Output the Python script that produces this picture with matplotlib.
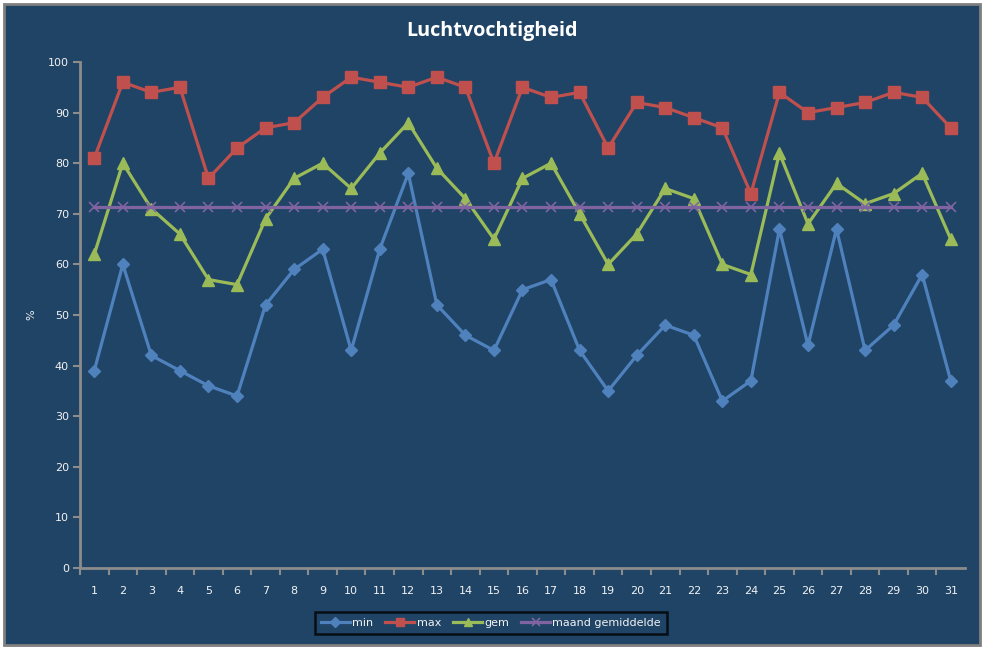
import matplotlib
matplotlib.use("Agg")
import matplotlib.pyplot as plt
from matplotlib.patches import Rectangle

days = list(range(1, 32))
min_vals = [39, 60, 42, 39, 36, 34, 52, 59, 63, 43, 63, 78, 52, 46, 43, 55,
            57, 43, 35, 42, 48, 46, 33, 37, 67, 44, 67, 43, 48, 58, 37]
max_vals = [81, 96, 94, 95, 77, 83, 87, 88, 93, 97, 96, 95, 97, 95, 80, 95,
            93, 94, 83, 92, 91, 89, 87, 74, 94, 90, 91, 92, 94, 93, 87]
gem_vals = [62, 80, 71, 66, 57, 56, 69, 77, 80, 75, 82, 88, 79, 73, 65, 77,
            80, 70, 60, 66, 75, 73, 60, 58, 82, 68, 76, 72, 74, 78, 65]
maand_gem = [71.4] * 31
yticks = [0, 10, 20, 30, 40, 50, 60, 70, 80, 90, 100]

BG = "#1F4466"
AXC = "#8C8C8C"
TXT = "#F2F2F2"

W, H = 987, 648
fig = plt.figure(figsize=(W / 100, H / 100), dpi=100)
fig.patch.set_facecolor("white")
fig.patches.append(Rectangle((4 / W, 1 - 645 / H), 976 / W, 641 / H,
                             transform=fig.transFigure, facecolor=BG,
                             edgecolor="#7F7F7F", linewidth=2, zorder=-10))

x0, x1 = 80 / W, 965 / W
y0, y1 = 1 - 568 / H, 1 - 62 / H
ax = fig.add_axes([x0, y0, x1 - x0, y1 - y0])
ax.set_zorder(5)
ax.patch.set_alpha(0)

lw = 2.3
ax.plot(days, min_vals, color="#4F81BD", lw=lw, marker="D", ms=6, label="min", zorder=3)
ax.plot(days, max_vals, color="#C0504D", lw=lw, marker="s", ms=8, label="max", zorder=3)
ax.plot(days, gem_vals, color="#9BBB59", lw=lw, marker="^", ms=8, label="gem", zorder=3)
ax.plot(days, maand_gem, color="#8064A2", lw=lw, marker="x", ms=7, mew=1.2,
        label="maand gemiddelde", zorder=3)

ax.set_xlim(0.5, 31.5)
ax.set_ylim(0, 100)
ax.set_yticks(yticks)
ax.set_xticks(days)
ax.set_xticks([d + 0.5 for d in range(0, 31)], minor=True)
ax.tick_params(axis="x", which="major", length=0, pad=13, labelsize=8, colors=TXT)
ax.tick_params(axis="x", which="minor", length=5, width=1.5, color=AXC)
ax.tick_params(axis="y", which="major", length=5, width=1.5, color=AXC,
               labelsize=8, labelcolor=TXT, pad=3)
for s in ["top", "right"]:
    ax.spines[s].set_visible(False)
for s in ["left", "bottom"]:
    ax.spines[s].set_color(AXC)
    ax.spines[s].set_linewidth(2)

fig.text(31 / W, 1 - 315 / H, "%", ha="center", va="center", rotation=90,
         color=TXT, fontsize=8)

fig.text(492 / W, 1 - 31 / H, "Luchtvochtigheid", ha="center", va="center",
         color="white", fontsize=14.2, fontweight="bold", family="Open Sans")

leg = ax.legend(loc="center", bbox_to_anchor=(491 / W, 1 - 623 / H),
                bbox_transform=fig.transFigure, ncol=4, frameon=True,
                fontsize=8, handlelength=2.6, columnspacing=1.1, handletextpad=0.2,
                borderpad=0.55, fancybox=False, markerscale=0.8)
leg.get_frame().set_facecolor(BG)
leg.get_frame().set_edgecolor("black")
leg.get_frame().set_linewidth(1.8)
for t in leg.get_texts():
    t.set_color(TXT)

fig.savefig("out.png", dpi=100, facecolor=fig.get_facecolor())
